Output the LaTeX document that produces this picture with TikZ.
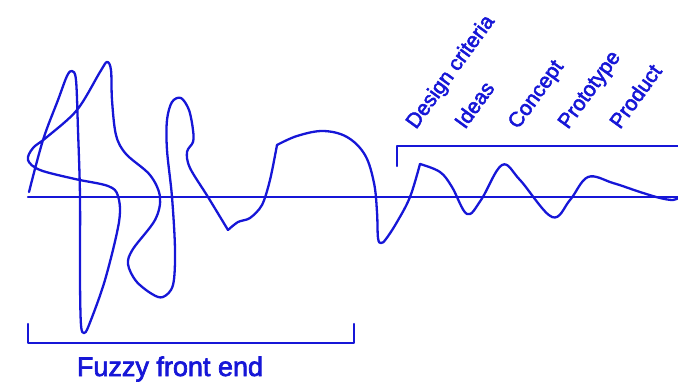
\documentclass[tikz,border=0pt]{standalone}
\usepackage{fontspec}
\setmainfont{Liberation Sans}[FakeBold=2.5]
\definecolor{ink}{RGB}{22,22,215}
\begin{document}
\begin{tikzpicture}[x=1pt,y=-1pt,
  line/.style={ink,line width=2.3pt,line cap=round,line join=round},
  stage/.style={ink,anchor=base west,inner sep=0pt,rotate=54,font=\fontsize{21}{21}\selectfont},
  phase/.style={ink,anchor=base,inner sep=0pt,font=\fontsize{27}{27}\selectfont}]
\useasboundingbox (0,0) rectangle (678,383);
% axis
\draw[line] (28,197) -- (678,197);
% fuzzy part of the curve
\draw[line] plot[smooth,tension=0.55] coordinates {
  (29,192) (43,140) (58,100) (67,76) (72,71) (76,80) (78,130) (80,197)
  (80,280) (81,325) (84,333) (89,325) (105,280) (119,222) (118,196)
  (108,186) (75,179) (40,170) (28,160) (33,148) (47,137) (77,110)
  (100,72) (107,62) (111,70) (112,100) (116,135) (126,154) (150,175)
  (160,197) (155,220) (133,249) (128,264) (136,281) (152,294) (163,297)
  (173,285) (175,250) (172,197) (167,150) (167,120) (172,102) (181,98)
  (189,110) (193,130) (193,142) (187,152) (190,168) (208,197) (228,230)};
\draw[line] plot[smooth,tension=0.5] coordinates {
  (228,230) (238,222) (250,218) (262,205) (270,180) (277,145)};
\draw[line] plot[smooth,tension=0.6] coordinates {
  (277,145) (297,136) (323,131) (347,137) (365,155) (374,183) (377,212)
  (378,238) (381,243) (386,239) (397,222) (410,197) (420,164)};
% settling part of the curve
\draw[line] plot[smooth,tension=0.6] coordinates {
  (420,164) (440,172) (452,187) (467,214) (481,200) (502,165) (520,180)
  (552,217) (570,200) (588,177) (613,183) (640,192) (660,198) (673,200)
  (678,198)};
% brackets
\draw[line] (397,166) -- (397,146) -- (678,146);
\draw[line] (28,324) -- (28,343) -- (354,343) -- (354,324);
% labels
\node[stage] (criteria) at (416,130) {Design criteria};
\node[stage] (ideas) at (465,130) {Ideas};
\node[stage] (concept) at (518,130) {Concept};
\node[stage] (prototype) at (568,130) {Prototype};
\node[stage] (product) at (620,130) {Product};
\node[phase] (fuzzy) at (170,376) {Fuzzy front end};
\end{tikzpicture}
\end{document}
